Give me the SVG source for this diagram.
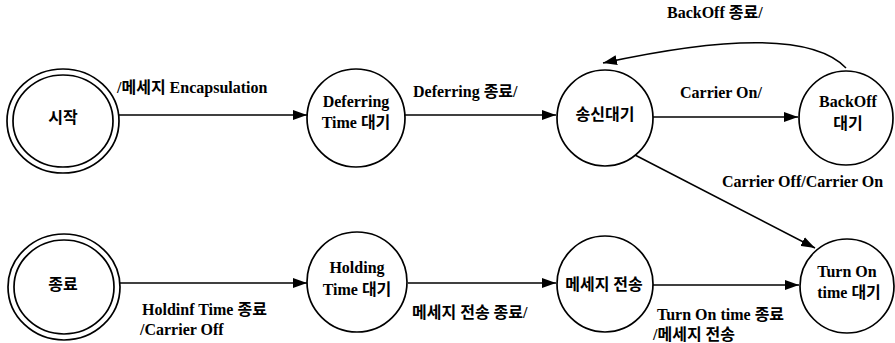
<svg xmlns="http://www.w3.org/2000/svg" width="895" height="343" viewBox="0 0 895 343">
<style>
.n{fill:none;stroke:#000;stroke-width:1.7}
.e{fill:none;stroke:#000;stroke-width:1.5}
text{font-family:"Liberation Serif","Noto Sans CJK KR",serif;font-size:16px;font-weight:bold;fill:#000}
.c{text-anchor:middle}
</style>
<defs>
<marker id="ah" viewBox="0 0 14 10" refX="14" refY="5" markerWidth="14" markerHeight="10" markerUnits="userSpaceOnUse" orient="auto">
<path d="M0,0 L14,5 L0,10 Z" fill="#000"/>
</marker>
</defs>
<g id="connectors">
<line class="e" x1="118" y1="115" x2="307" y2="115" marker-end="url(#ah)"/>
<line class="e" x1="404" y1="115" x2="556" y2="115" marker-end="url(#ah)"/>
<line class="e" x1="653" y1="117" x2="798" y2="117" marker-end="url(#ah)"/>
<path class="e" d="M846,68 Q800,20 603,63" marker-end="url(#ah)"/>
<line class="e" x1="635" y1="155" x2="815" y2="248" marker-end="url(#ah)"/>
<line class="e" x1="120" y1="283" x2="307" y2="283" marker-end="url(#ah)"/>
<line class="e" x1="408" y1="283" x2="556" y2="283" marker-end="url(#ah)"/>
<line class="e" x1="653" y1="285" x2="799" y2="285" marker-end="url(#ah)"/>
<text x="117" y="93">/메세지 Encapsulation</text>
<text x="413" y="97">Deferring 종료/</text>
<text x="667" y="18">BackOff 종료/</text>
<text x="680" y="98">Carrier On/</text>
<text x="722" y="187">Carrier Off/Carrier On</text>
<text x="142" y="315">Holdinf Time 종료</text>
<text x="140" y="335">/Carrier Off</text>
<text x="412" y="318">메세지 전송 종료/</text>
<text x="657" y="320">Turn On time 종료</text>
<text x="653" y="340">/메세지 전송</text>
</g>
<g id="start">
<ellipse class="n" cx="63" cy="121" rx="56" ry="52"/>
<ellipse class="n" cx="63" cy="121" rx="50" ry="46"/>
<text class="c" x="63" y="123">시작</text>
</g>
<g id="deferring">
<circle class="n" cx="356" cy="118" r="49"/>
<text class="c" x="356" y="107">Deferring</text>
<text class="c" x="356" y="128">Time 대기</text>
</g>
<g id="send-wait">
<circle class="n" cx="605" cy="118" r="48"/>
<text class="c" x="605" y="120">송신대기</text>
</g>
<g id="backoff">
<circle class="n" cx="846" cy="118" r="47"/>
<text class="c" x="848" y="107">BackOff</text>
<text class="c" x="848" y="129">대기</text>
</g>
<g id="end">
<ellipse class="n" cx="64" cy="287" rx="56" ry="53"/>
<ellipse class="n" cx="64" cy="287" rx="50" ry="47"/>
<text class="c" x="63" y="290">종료</text>
</g>
<g id="holding">
<circle class="n" cx="357" cy="282" r="50"/>
<text class="c" x="357" y="273">Holding</text>
<text class="c" x="357" y="295">Time 대기</text>
</g>
<g id="msg-send">
<circle class="n" cx="605" cy="284" r="48"/>
<text class="c" x="604" y="290">메세지 전송</text>
</g>
<g id="turnon">
<circle class="n" cx="847" cy="286" r="47"/>
<text class="c" x="847" y="277">Turn On</text>
<text class="c" x="849" y="298">time 대기</text>
</g>
</svg>
